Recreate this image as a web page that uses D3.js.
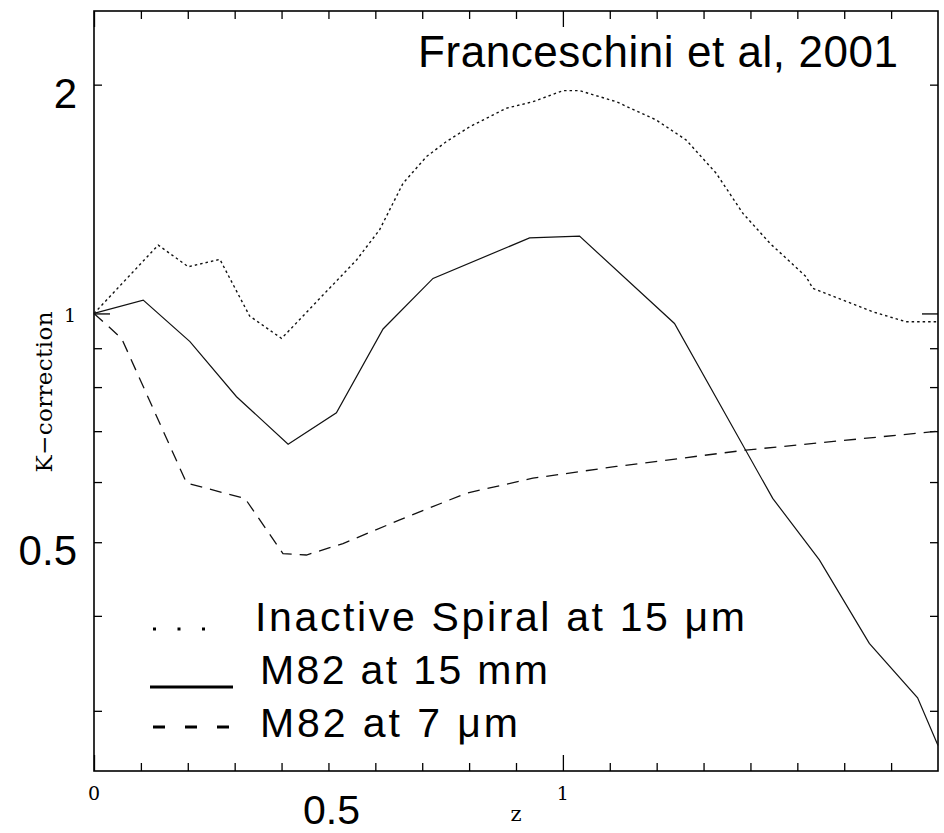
<!DOCTYPE html>
<html>
<head>
<meta charset="utf-8">
<script src="https://cdn.jsdelivr.net/npm/d3@7"></script>
<style>
  body { margin: 0; background: #fff; }
  svg { display: block; }
  .big { font-family: "Liberation Sans", Arial, sans-serif; fill: #000; }
  .small { font-family: "DejaVu Serif", serif; fill: #000; }
  .tick line { stroke: #000; stroke-width: 1.3; }
</style>
</head>
<body>
<svg id="chart" width="944" height="833"></svg>
<script>
// redshift grid and K-correction values
const zSpiral = [0, 0.137, 0.201, 0.2685, 0.332, 0.400, 0.560, 0.609, 0.659, 0.709, 0.7515, 0.801, 0.879, 0.936, 1.0, 1.0355, 1.114, 1.199, 1.263, 1.327, 1.384, 1.442, 1.5185, 1.533, 1.661, 1.732, 1.8];
const kSpiral = [1.0, 1.230, 1.152, 1.178, 0.992, 0.927, 1.176, 1.288, 1.483, 1.608, 1.683, 1.760, 1.862, 1.899, 1.964, 1.964, 1.899, 1.797, 1.691, 1.529, 1.354, 1.236, 1.118, 1.079, 1.005, 0.975, 0.975];

const zM82_15 = [0, 0.105, 0.2046, 0.304, 0.414, 0.517, 0.6165, 0.723, 0.929, 1.0355, 1.238, 1.4475, 1.547, 1.6535, 1.7565, 1.8];
const kM82_15 = [1.0, 1.041, 0.918, 0.777, 0.673, 0.740, 0.954, 1.112, 1.257, 1.264, 0.970, 0.571, 0.474, 0.368, 0.312, 0.270];

const zM82_7 = [0, 0.059, 0.1975, 0.322, 0.403, 0.453, 0.531, 0.652, 0.794, 0.936, 1.114, 1.39, 1.8];
const kM82_7 = [1.0, 0.927, 0.598, 0.571, 0.483, 0.481, 0.498, 0.535, 0.580, 0.607, 0.629, 0.661, 0.700];

// ticks
const yMinorTicks = [0.3, 0.4, 0.5, 0.6, 0.7, 0.8, 0.9, 2];
const yMajorTicks = [1];
const xMinorTicks = [0.1, 0.2, 0.3, 0.4, 0.5, 0.6, 0.7, 0.8, 0.9, 1.1, 1.2, 1.3, 1.4, 1.5, 1.6, 1.7];
const xMajorTicks = [0, 1];

// labels
const yBigLabels = [2, 0.5];
const ySmallLabels = [1];
const xSmallLabels = [0, 1];
const xBigLabels = [0.5];

const legendNames = ["Inactive Spiral at 15 \u03bcm", "M82 at 15 mm", "M82 at 7 \u03bcm"];
const titleText = "Franceschini et al, 2001";

const svg = d3.select("#chart");
const plot = { left: 94, right: 938, top: 11, bottom: 771 };

const x = d3.scaleLinear().domain([0, 1.8]).range([plot.left, plot.right]);
const y = d3.scaleLog().domain([0.25, 2.5]).range([plot.bottom, plot.top]);

// frame
svg.append("rect")
    .attr("x", plot.left).attr("y", plot.top)
    .attr("width", plot.right - plot.left).attr("height", plot.bottom - plot.top)
    .attr("fill", "none").attr("stroke", "#000").attr("stroke-width", 1.6);

// ticks on all four sides, pointing inwards
function addTicks(axis, tx, ty) {
    svg.append("g")
        .attr("transform", `translate(${tx},${ty})`)
        .call(axis)
        .call(g => g.select(".domain").remove())
        .call(g => g.selectAll("text").remove());
}
addTicks(d3.axisRight(y).tickValues(yMinorTicks).tickSize(8), plot.left, 0);
addTicks(d3.axisRight(y).tickValues(yMajorTicks).tickSize(16), plot.left, 0);
addTicks(d3.axisLeft(y).tickValues(yMinorTicks).tickSize(8), plot.right, 0);
addTicks(d3.axisLeft(y).tickValues(yMajorTicks).tickSize(16), plot.right, 0);
addTicks(d3.axisBottom(x).tickValues(xMinorTicks).tickSize(8), 0, plot.top);
addTicks(d3.axisBottom(x).tickValues(xMajorTicks).tickSize(16), 0, plot.top);
addTicks(d3.axisTop(x).tickValues(xMinorTicks).tickSize(8), 0, plot.bottom);
addTicks(d3.axisTop(x).tickValues(xMajorTicks).tickSize(16), 0, plot.bottom);

// tick labels
svg.selectAll(".ybig").data(yBigLabels).enter().append("text")
    .attr("class", "big")
    .attr("x", 77).attr("y", d => y(d) + 23)
    .attr("text-anchor", "end")
    .style("font-size", "42px")
    .text(d => d);

svg.selectAll(".ysmall").data(ySmallLabels).enter().append("text")
    .attr("class", "small")
    .attr("x", 76).attr("y", d => y(d) + 9)
    .attr("text-anchor", "end")
    .style("font-size", "19px")
    .text(d => d);

svg.selectAll(".xsmall").data(xSmallLabels).enter().append("text")
    .attr("class", "small")
    .attr("x", d => x(d)).attr("y", plot.bottom + 29)
    .attr("text-anchor", "middle")
    .style("font-size", "19px")
    .text(d => d);

svg.selectAll(".xbig").data(xBigLabels).enter().append("text")
    .attr("class", "big")
    .attr("x", d => x(d) + 3).attr("y", plot.bottom + 53)
    .attr("text-anchor", "middle")
    .style("font-size", "41px")
    .text(d => d);

// axis titles
svg.append("text")
    .attr("class", "small")
    .attr("x", 516).attr("y", 821)
    .attr("text-anchor", "middle")
    .style("font-size", "21px")
    .text("z");

svg.append("text")
    .attr("class", "small")
    .attr("transform", "translate(52,392) rotate(-90)")
    .attr("text-anchor", "middle")
    .attr("textLength", 161)
    .style("font-size", "23px")
    .text("K\u2212correction");

svg.append("text")
    .attr("class", "big")
    .attr("x", 418).attr("y", 67)
    .attr("textLength", 480)
    .style("font-size", "44px")
    .text(titleText);

// curves
const line = d3.line().x(d => x(d[0])).y(d => y(d[1]));
const series = [
    { z: zSpiral, k: kSpiral, dash: "2.5,3", width: 1.4 },
    { z: zM82_15, k: kM82_15, dash: null, width: 1.2 },
    { z: zM82_7, k: kM82_7, dash: "12,8", width: 1.3 }
];
series.forEach(s => {
    svg.append("path")
        .datum(d3.zip(s.z, s.k))
        .attr("d", line)
        .attr("fill", "none")
        .attr("stroke", "#111")
        .attr("stroke-width", s.width)
        .attr("stroke-dasharray", s.dash);
});

// legend
const legendY = [631, 684, 737];
const legendX = [255, 260, 260];
const legendLen = [490, 288, 258];
const legendSym = [
    { dash: "3,21.5", width: 3, y: -2, x1: 153, x2: 210 },
    { dash: null, width: 3, y: 3, x1: 150, x2: 233 },
    { dash: "12,20", width: 3, y: -10, x1: 153, x2: 230 }
];
legendNames.forEach((name, i) => {
    const s = legendSym[i];
    svg.append("line")
        .attr("x1", s.x1).attr("x2", s.x2)
        .attr("y1", legendY[i] + s.y).attr("y2", legendY[i] + s.y)
        .attr("stroke", "#000")
        .attr("stroke-width", s.width)
        .attr("stroke-dasharray", s.dash);
    svg.append("text")
        .attr("class", "big")
        .attr("x", legendX[i]).attr("y", legendY[i])
        .attr("textLength", legendLen[i])
        .style("font-size", "41px")
        .text(name);
});
</script>
</body>
</html>
